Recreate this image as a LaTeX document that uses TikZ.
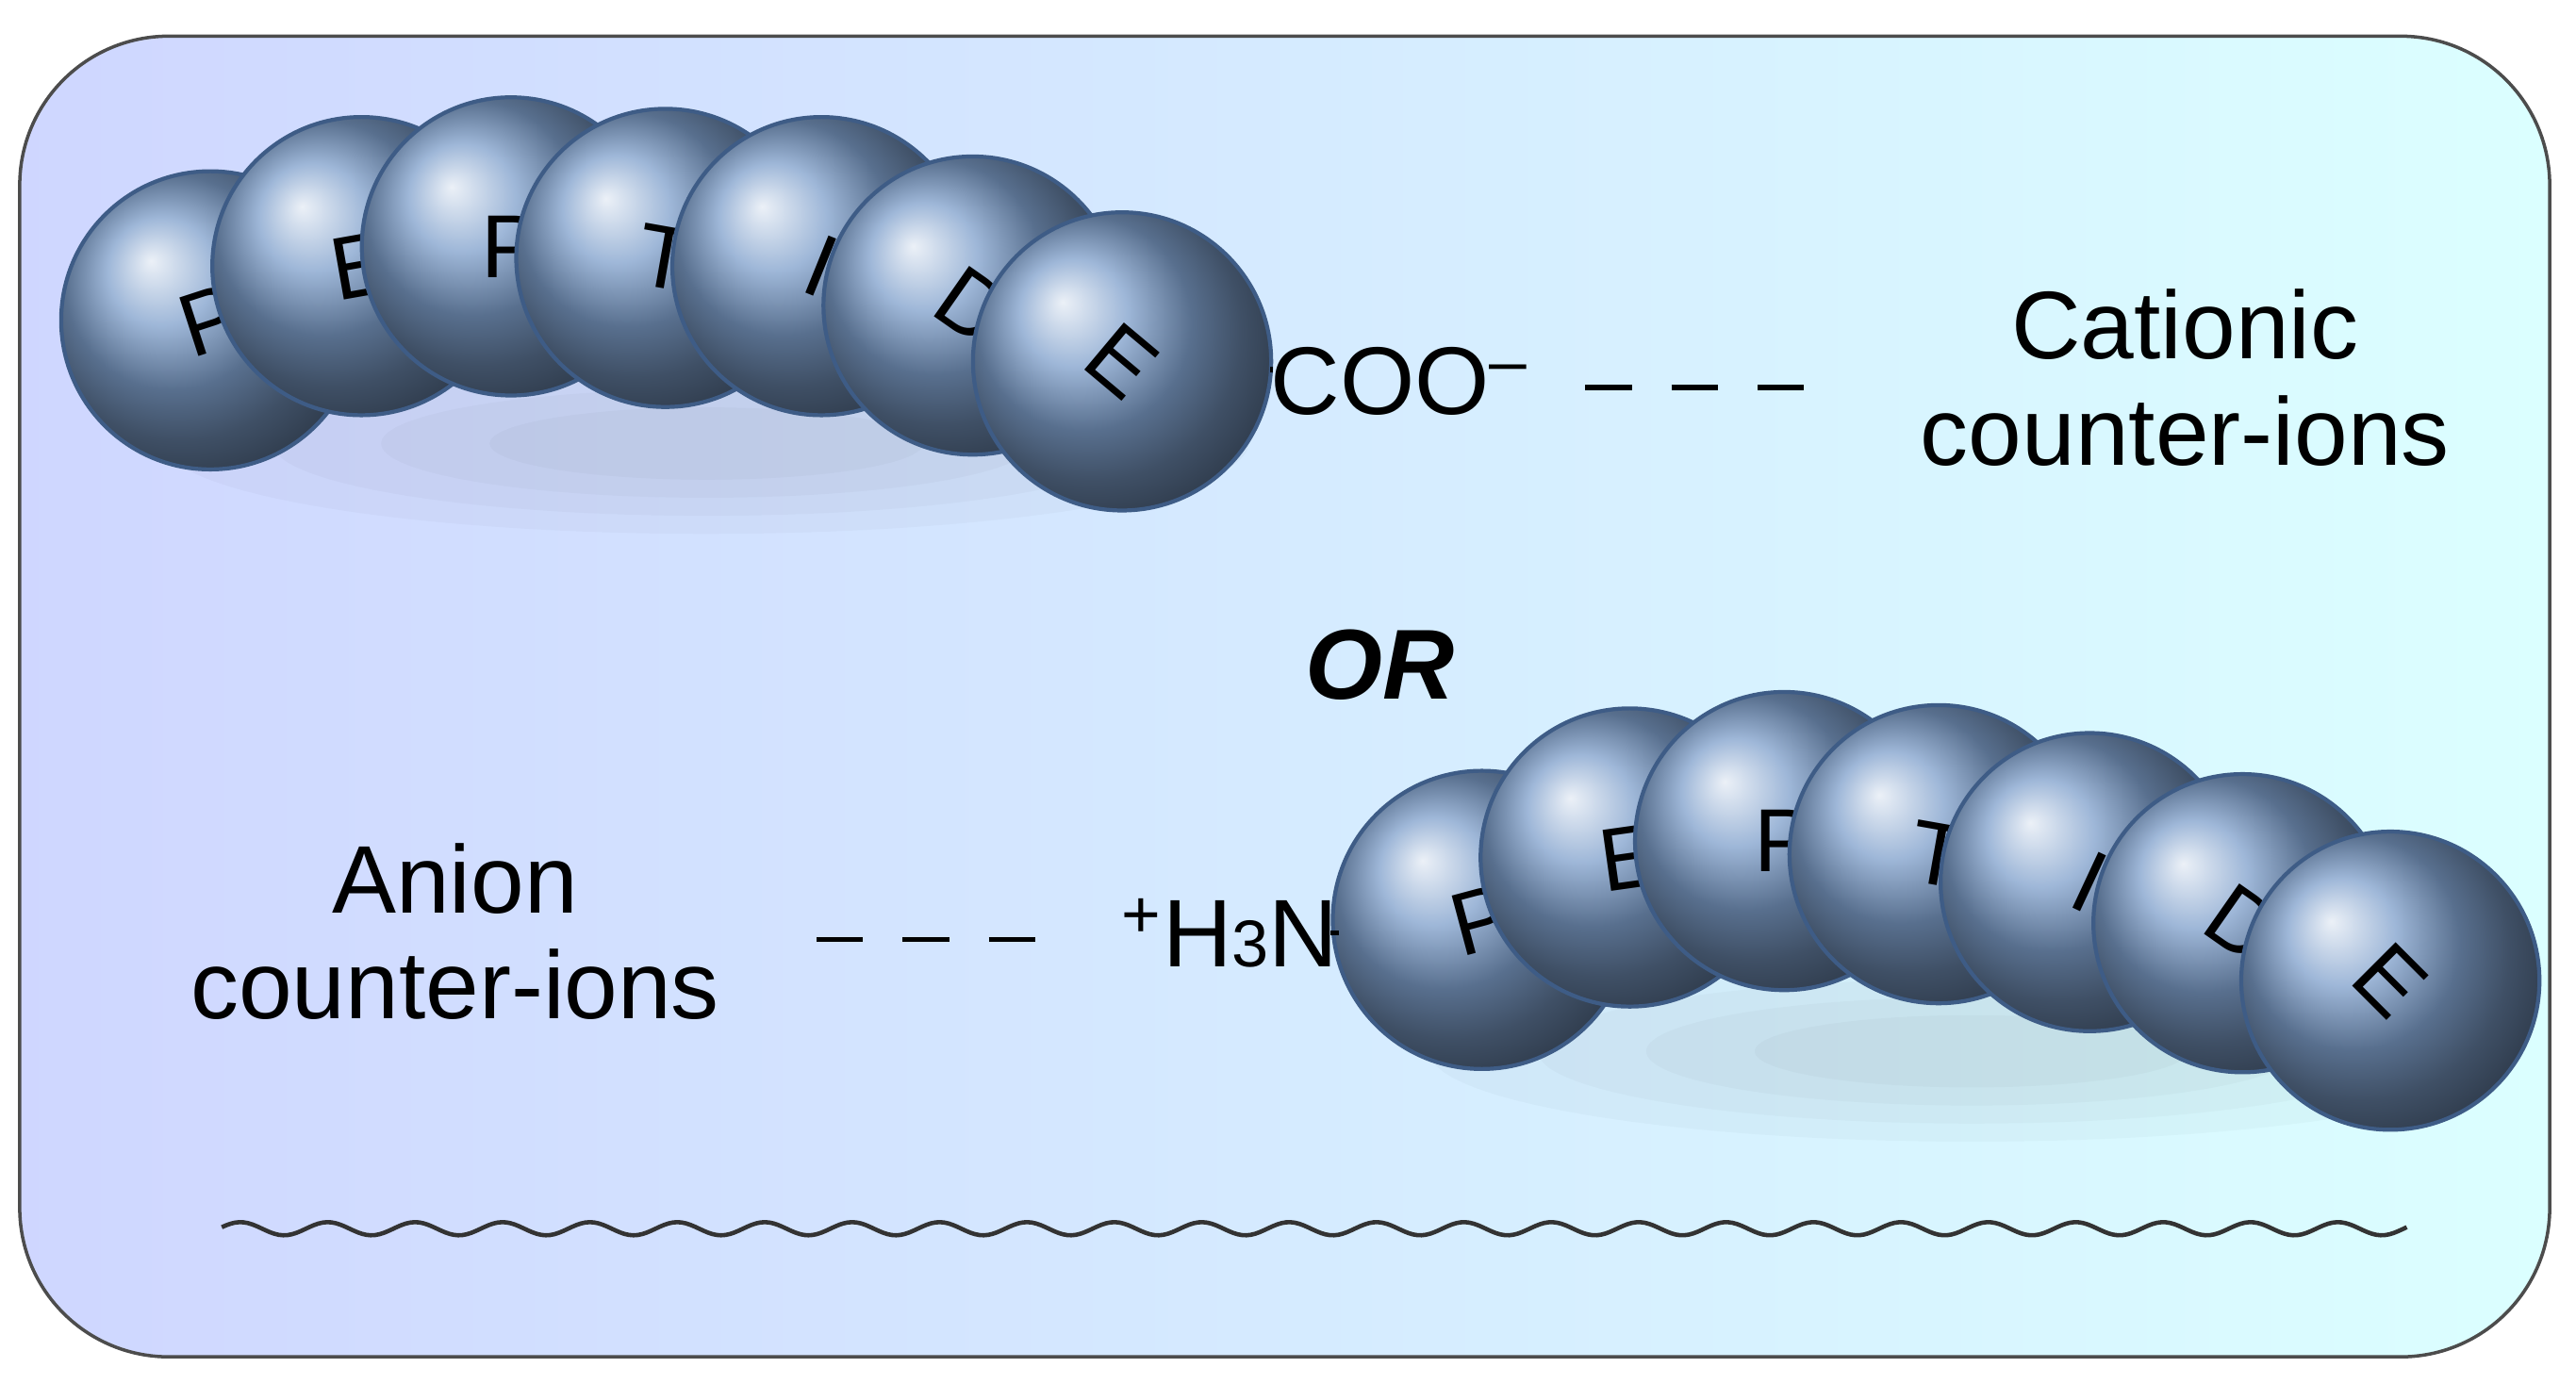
\documentclass[tikz,border=0pt]{standalone}
\usepackage{fontspec}
\setmainfont{Liberation Sans}
\usetikzlibrary{fadings}
\definecolor{bead}{HTML}{7E9FCB}
\definecolor{beadline}{HTML}{3E5C86}
\tikzset{
  beadnode/.style={circle,minimum size=90,inner sep=0pt,shading=ball,ball color=bead,draw=beadline,line width=1.2pt,font=\fontsize{27}{27}\selectfont},
  lbl/.style={font=\fontsize{29}{32}\selectfont,align=center,inner sep=0pt},
  dashline/.style={line width=1.6pt,dash pattern=on 14pt off 12pt},
}
\begin{document}
\begin{tikzpicture}[x=0.017423cm,y=-0.017423cm]
\useasboundingbox (0,0) rectangle (1568,842);
\shade[left color=white!88!cyan!60!blue!40,right color=cyan!14,draw=black!70,line width=1pt,rounded corners=45pt] (12,22) rectangle (1552,826);
% soft shadows
\foreach \s in {1,0.8,0.6,0.4}{
 \fill[black,opacity=0.025] (430,270) ellipse ({330*\s} and {55*\s});
 \fill[black,opacity=0.025] (1200,640) ellipse ({330*\s} and {55*\s});
}
% top chain
\node[beadnode] (a1) at (128,195) {\rotatebox{18}{P}};
\node[beadnode] (a2) at (220,162) {\rotatebox{10}{E}};
\node[beadnode] (a3) at (311,150) {\rotatebox{0}{P}};
\node[beadnode] (a4) at (405,157) {\rotatebox{-10}{T}};
\node[beadnode] (a5) at (500,162) {\rotatebox{-22}{I}};
\node[beadnode] (a6) at (592,186) {\rotatebox{-35}{D}};
\node[beadnode] (a7) at (683,220) {\rotatebox{-40}{E}};
\node[lbl,anchor=west] (coo) at (773,232) {COO\textsuperscript{–}};
\draw[line width=1.6pt] (a7.east) ++(0,5) coordinate (c1) -- (coo.west |- c1);
\coordinate (d1) at (965,236); \coordinate (d2) at (1120,236);
\draw[dashline] (d1) -- (d2);
\node[lbl] (cat) at (1330,230) {Cationic\\counter-ions};
% OR
\node[font=\fontsize{30}{30}\selectfont\bfseries\itshape] (or) at (840,405) {OR};
% bottom chain
\node[beadnode] (b1) at (902,560) {\rotatebox{15}{P}};
\node[beadnode] (b2) at (992,522) {\rotatebox{8}{E}};
\node[beadnode] (b3) at (1086,512) {\rotatebox{0}{P}};
\node[beadnode] (b4) at (1180,520) {\rotatebox{-10}{T}};
\node[beadnode] (b5) at (1272,537) {\rotatebox{-25}{I}};
\node[beadnode] (b6) at (1365,562) {\rotatebox{-35}{D}};
\node[beadnode] (b7) at (1455,597) {\rotatebox{-45}{E}};
\node[lbl,anchor=east] (h3n) at (815,568) {\textsuperscript{+}H{\fontsize{20}{20}\selectfont 3}N};
\draw[line width=1.6pt] (h3n.east) -- (b1.west |- h3n.east);
\coordinate (d3) at (497,572); \coordinate (d4) at (650,572);
\draw[dashline] (d3) -- (d4);
\node[lbl] (an) at (277,567) {Anion\\counter-ions};
% wave
\draw[line width=1.3pt,black!80] plot[domain=135:1465,samples=500] (\x,{748+4*sin(\x/53.2*360)});
\end{tikzpicture}
\end{document}
